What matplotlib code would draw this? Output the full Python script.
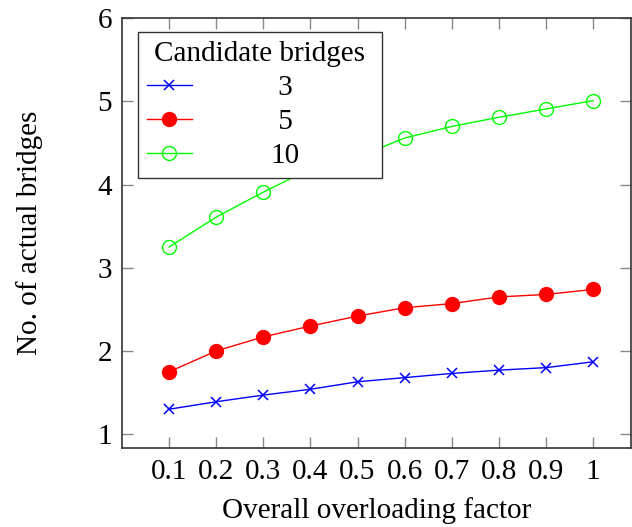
import matplotlib
matplotlib.use("Agg")
import matplotlib.pyplot as plt

plt.rcParams['font.family'] = ['Liberation Serif', 'DejaVu Serif']

# Overall overloading factor
factor = [0.1, 0.2, 0.3, 0.4, 0.5, 0.6, 0.7, 0.8, 0.9, 1.0]
xtick_labels = ['0.1', '0.2', '0.3', '0.4', '0.5', '0.6', '0.7', '0.8', '0.9', '1']

# Number of actual bridges for each number of candidate bridges
bridges_3 = [1.30, 1.39, 1.47, 1.54, 1.63, 1.68, 1.73, 1.77, 1.80, 1.87]
bridges_5 = [1.75, 2.00, 2.17, 2.30, 2.42, 2.52, 2.57, 2.65, 2.68, 2.74]
bridges_10 = [3.25, 3.61, 3.91, 4.19, 4.33, 4.56, 4.70, 4.81, 4.91, 5.01]

# legend entries (four-per-em space keeps single digits centred under "10")
series_labels = ['\u20053', '\u20055', '10']
yticks = [1, 2, 3, 4, 5, 6]

fig = plt.figure(figsize=(6.32, 5.27), dpi=100)
ax = fig.add_axes([0.193, 0.1493, 0.805, 0.8160])

fs = 21
ax.plot(factor, bridges_3, color='#0000ff', lw=1.0, marker='x', ms=7, mew=1.1,
        label=series_labels[0])
ax.plot(factor, bridges_5, color='#ff0000', lw=1.0, marker='o', ms=10,
        mfc='#ff0000', mec='#ff0000', label=series_labels[1])
ax.plot(factor, bridges_10, color='#00ff00', lw=1.0, marker='o', ms=10,
        mfc='none', mec='#00ff00', mew=1.0, label=series_labels[2])

ax.set_xlim(0.0, 1.08)
ax.set_ylim(0.83, 6.0)
ax.set_xticks(factor)
ax.set_xticklabels(xtick_labels)
ax.set_yticks(yticks)

for side in ['left', 'right', 'top', 'bottom']:
    ax.spines[side].set_linewidth(1.2)
    ax.spines[side].set_color('#333333')

ax.tick_params(direction='in', length=8, width=1.0, color='#888888',
               top=True, right=True, labelsize=fs)
ax.tick_params(axis='x', pad=8)
ax.tick_params(axis='y', pad=7)

ax.set_xlabel('Overall overloading factor', fontsize=fs, labelpad=8)
ax.set_ylabel('No. of actual bridges', fontsize=fs, labelpad=39)

leg = ax.legend(title='Candidate bridges', loc='upper left',
                bbox_to_anchor=(0.0314, 0.0, 0.4796, 0.968), mode='expand',
                fontsize=fs, title_fontsize=fs,
                frameon=True, fancybox=False, framealpha=1.0,
                edgecolor='#333333',
                handlelength=1.55, handletextpad=2.7, borderpad=0.3,
                labelspacing=0.26, borderaxespad=0.0)
leg.get_frame().set_linewidth(1.0)

fig.savefig('out.png', dpi=100)
